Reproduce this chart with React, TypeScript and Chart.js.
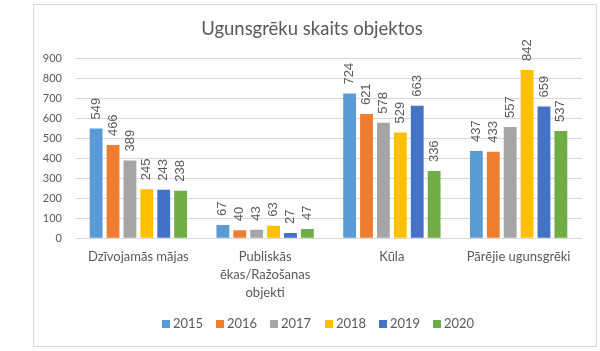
import React, { useEffect, useRef } from "react";
import { Chart, registerables } from "chart.js";

Chart.register(...registerables);

const chartTitle = "Ugunsgrēku skaits objektos";
const categories: (string | string[])[] = [
  "Dzīvojamās mājas",
  ["Publiskās", "ēkas/Ražošanas", "objekti"],
  "Kūla",
  "Pārējie ugunsgrēki",
];
const years = ["2015", "2016", "2017", "2018", "2019", "2020"];
const values2015 = [549, 67, 724, 437];
const values2016 = [466, 40, 621, 433];
const values2017 = [389, 43, 578, 557];
const values2018 = [245, 63, 529, 842];
const values2019 = [243, 27, 663, 659];
const values2020 = [238, 47, 336, 537];
const seriesValues = [values2015, values2016, values2017, values2018, values2019, values2020];
const seriesColors = ["#5B9BD5", "#ED7D31", "#A5A5A5", "#FFC000", "#4472C4", "#70AD47"];
const yMin = 0;
const yMax = 900;
const yStep = 100;

const TEXT = "#595959";
const GRID = "#D9D9D9";
const FONT = "Lato, 'Open Sans', sans-serif";

const valueLabels = {
  id: "valueLabels",
  afterDatasetsDraw(chart: any) {
    const ctx = chart.ctx;
    ctx.save();
    ctx.font = "13px 'Liberation Sans', Arial, sans-serif";
    ctx.fillStyle = TEXT;
    ctx.textAlign = "left";
    ctx.textBaseline = "middle";
    chart.data.datasets.forEach((ds: any, i: number) => {
      const meta = chart.getDatasetMeta(i);
      meta.data.forEach((el: any, j: number) => {
        ctx.save();
        ctx.translate(el.x, el.y - 9);
        ctx.rotate(-Math.PI / 2);
        ctx.fillText(String(ds.data[j]), 0, 0);
        ctx.restore();
      });
    });
    ctx.restore();
  },
};

// Legend drawn below the axis labels (box 8px, 3px gap to text, fixed item pitch)
const bottomLegend = {
  id: "bottomLegend",
  afterDraw(chart: any) {
    const ctx = chart.ctx;
    ctx.save();
    ctx.font = `13px ${FONT}`;
    ctx.textBaseline = "middle";
    ctx.textAlign = "left";
    const box = 8;
    const gapText = 3;
    const pitch = 54.3;
    const dss = chart.data.datasets;
    const lastW = ctx.measureText(dss[dss.length - 1].label).width;
    const total = pitch * (dss.length - 1) + box + gapText + lastW;
    const x0 = 284 - total / 2;
    const cy = 319;
    dss.forEach((ds: any, i: number) => {
      const x = x0 + i * pitch;
      ctx.fillStyle = ds.backgroundColor;
      ctx.fillRect(Math.round(x), Math.round(cy - box / 2), box, box);
      ctx.fillStyle = TEXT;
      ctx.fillText(ds.label, Math.round(x) + box + gapText, cy);
    });
    ctx.restore();
  },
};

export default function App() {
  const canvasRef = useRef<HTMLCanvasElement | null>(null);

  useEffect(() => {
    if (!canvasRef.current) return;
    const chart = new Chart(canvasRef.current, {
      type: "bar",
      data: {
        labels: categories as any,
        datasets: years.map((y, i) => ({
          label: y,
          data: seriesValues[i],
          backgroundColor: seriesColors[i],
          borderWidth: 0,
          categoryPercentage: 0.8,
          barPercentage: 0.76,
        })),
      },
      options: {
        animation: false,
        responsive: false,
        devicePixelRatio: 1,
        layout: { padding: { left: 8, right: 14, top: 0, bottom: 0 } },
        plugins: {
          title: {
            display: true,
            text: chartTitle,
            color: TEXT,
            font: { family: FONT, size: 18.5, weight: "normal", lineHeight: 1.2 },
            padding: { top: 12.9, bottom: 18.2 },
          },
          legend: { display: false },
          tooltip: { enabled: false },
        },
        scales: {
          x: {
            grid: { display: false, drawTicks: false },
            border: { display: false },
            ticks: {
              color: TEXT,
              padding: 9.5,
              maxRotation: 0,
              autoSkip: false,
              font: { family: FONT, size: 13, lineHeight: 1.4 },
            },
            afterFit(scale: any) {
              scale.height = 107.7;
            },
          },
          y: {
            min: yMin,
            max: yMax,
            grid: { color: GRID, lineWidth: 1, drawTicks: false },
            border: { display: false },
            ticks: {
              stepSize: yStep,
              color: TEXT,
              padding: 13,
              font: { family: FONT, size: 11 },
            },
            afterFit(scale: any) {
              scale.width = 33;
            },
          },
        },
      },
      plugins: [valueLabels, bottomLegend],
    } as any);
    return () => chart.destroy();
  }, []);

  return (
    <div style={{ position: "absolute", left: 0, top: 0, width: 600, height: 351, background: "#fff" }}>
      <div
        style={{
          position: "absolute",
          left: 33,
          top: 4,
          width: 564,
          height: 343,
          border: "1px solid #D9D9D9",
          boxSizing: "border-box",
        }}
      >
        <canvas ref={canvasRef} width={562} height={341} style={{ display: "block", width: 562, height: 341 }} />
      </div>
    </div>
  );
}
